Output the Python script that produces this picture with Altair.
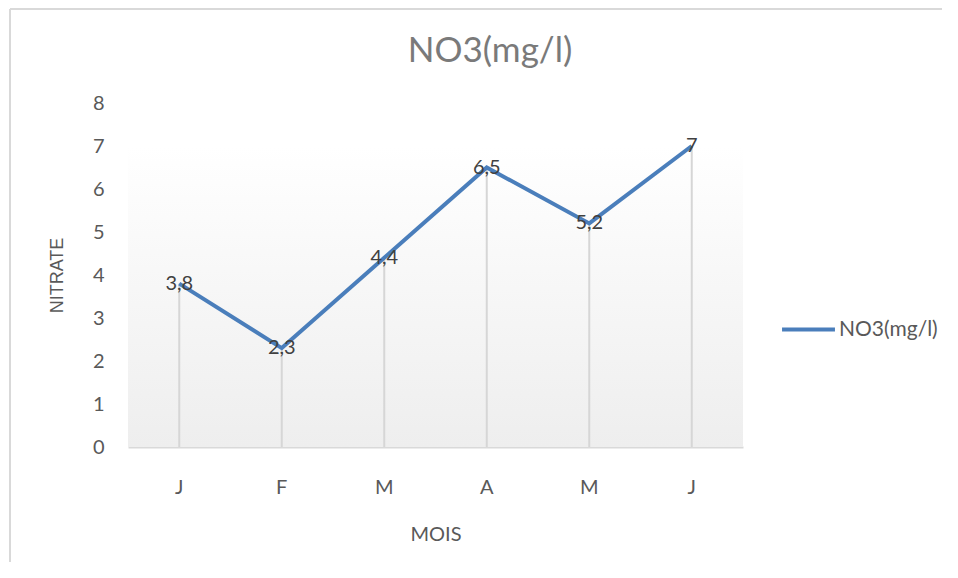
import altair as alt
import pandas as pd

months = ["J", "F", "M", "A", "M", "J"]
values = [3.8, 2.3, 4.4, 6.5, 5.2, 7.0]
series_name = "NO3(mg/l)"
y_ticks = [0, 1, 2, 3, 4, 5, 6, 7, 8]

df = pd.DataFrame({
    "idx": list(range(len(months))),
    "month": months,
    "value": values,
    "label": [f"{v:g}".replace(".", ",") for v in values],
    "series": [series_name] * len(months),
})
one = pd.DataFrame({"t": [series_name]})

label_expr = "[" + ",".join(f"'{m}'" for m in months) + "][datum.value]"

W, H = 615, 344
FONT = "Lato"

x_enc = alt.X("idx:O", scale=alt.Scale(paddingInner=0, paddingOuter=0),
              axis=alt.Axis(title="MOIS", labelExpr=label_expr, labelAngle=0,
                            labelFont=FONT, labelFontSize=20, labelColor="#595959",
                            labelPadding=30, ticks=False, domain=True,
                            domainColor="#d9d9d9", domainWidth=2,
                            titleFont=FONT, titleFontSize=20, titleColor="#595959",
                            titleFontWeight="normal", titlePadding=27))
y_scale = alt.Scale(domain=[0, 8], nice=False)
y_enc = alt.Y("value:Q", scale=y_scale,
              axis=alt.Axis(title="NITRATE", values=y_ticks, grid=False, ticks=False,
                            domain=False, labelFont=FONT, labelFontSize=20,
                            labelColor="#595959", labelPadding=24,
                            titleFont="Liberation Sans", titleFontSize=18,
                            titleColor="#595959", titleFontWeight="normal",
                            titlePadding=26))

base = alt.Chart(df)
single = alt.Chart(one)

bg = single.mark_rect(
    color=alt.LinearGradient(gradient="linear", x1=0, y1=0, x2=0, y2=1,
                             stops=[alt.GradientStop(color="#ffffff", offset=0),
                                    alt.GradientStop(color="#eeeeee", offset=1)])
).encode(
    x=alt.value(0), x2=alt.value(W),
    y=alt.datum(max(values), scale=y_scale), y2=alt.datum(0),
)

drops = base.mark_rule(color="#d6d6d6", strokeWidth=2).encode(
    x=x_enc, y=y_enc, y2=alt.datum(0)
)

line = base.mark_line(strokeWidth=4).encode(
    x=x_enc, y=y_enc,
    color=alt.Color("series:N", scale=alt.Scale(range=["#4a7ebb"]),
                    legend=alt.Legend(title=None, orient="none", legendX=652, legendY=198,
                                      symbolType="stroke", symbolSize=2800,
                                      symbolStrokeWidth=4, labelFont=FONT,
                                      labelFontSize=21, labelColor="#595959",
                                      labelOffset=2)),
)

labels = base.mark_text(font=FONT, fontSize=20, color="#404040", baseline="middle").encode(
    x=x_enc, y=y_enc, text="label:N"
)

title = single.mark_text(font=FONT, fontSize=35, fontWeight=400, color="#7a7a7a",
                         baseline="alphabetic", align="center").encode(
    x=alt.value(362), y=alt.value(-41), text="t:N"
)

frame_left = single.mark_rule(color="#d9d9d9", strokeWidth=2).encode(
    x=alt.value(-118), y=alt.value(-94), y2=alt.value(H + 200)
)
frame_top = single.mark_rule(color="#d9d9d9", strokeWidth=2).encode(
    x=alt.value(-118), x2=alt.value(W + 300), y=alt.value(-94)
)

chart = alt.layer(bg, drops, line, labels, title, frame_left, frame_top).properties(
    width=W, height=H,
    padding={"left": 120, "top": 95, "right": 199, "bottom": 115},
    autosize=alt.AutoSizeParams(type="none"),
).configure_view(stroke=None)

chart.save("out.html", embed_options={"renderer": "svg", "actions": False})
